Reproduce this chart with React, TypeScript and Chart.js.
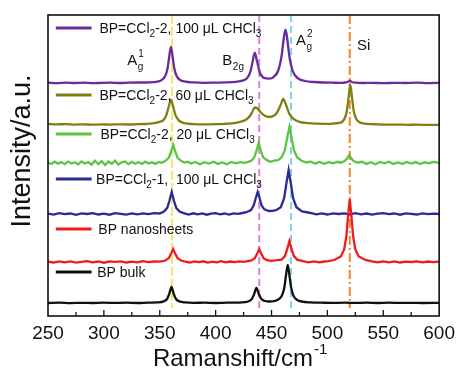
import React, { useEffect, useRef } from 'react';
import { Chart, registerables } from 'chart.js';

Chart.register(...registerables);

const FONT = "Arial, 'Liberation Sans', Helvetica, sans-serif";

// ---- axis ----
const xMin = 250;
const xMax = 600;
const xStep = 50;
const yMax = 301;

// ---- series (Raman intensity above each curve's baseline) ----
const seriesLabels = [
  'BP=CCl_2-2, 100 μL CHCl_3',
  'BP=CCl_2-2, 60 μL CHCl_3',
  'BP=CCl_2-2, 20 μL CHCl_3',
  'BP=CCl_2-1,  100 μL CHCl_3',
  'BP nanosheets',
  'BP bulk',
];
const seriesColors = ['#6a2c9c', '#7f7f12', '#5cc443', '#2b2b95', '#ee1c1c', '#111111'];
const seriesOffsets = [233, 191, 153, 102, 54, 13];
const legendYs = [288, 221, 182, 137, 87, 44];
const seriesNoisy = [false, false, true, true, true, false];

const purpleX = [250,258,266,274,282,290,298,306,314,322,330,338,344,348,352,355,357,358.5,360,361.5,363,365,368,373,380,390,400,410,418,424,428,431,433,435,437,440,444,448,452,456,459,461,462.5,464,466,469,474,480,488,496,505,512,516,518,520,522,525,532,540,550,560,570,580,590,600];
const purpleY = [0.3,-0.2,0.4,0,0.3,-0.2,0.2,0.4,0,0.3,0.5,0.5,0.8,1.4,3.2,7.2,14.8,26.5,36,26.5,14.8,7.2,3.2,1.3,0.6,0.2,0.4,0.6,1.2,2.3,4.7,10.8,20.8,30.3,21.8,9.2,4.8,4.4,6.2,12.5,27,45,53.4,45,26.5,11.9,4.5,2.0,1.0,0.5,0.3,0.2,0.5,1.0,2.0,1.0,0.3,0,0.2,-0.2,0.2,0,0.3,-0.1,0.2];

const oliveX = [250,258,266,274,282,290,298,306,314,322,330,336,341,345,348,351,353,356,358,360,362,364,367,372,380,390,400,408,414,419,424,428,431,433,435,437,440,444,448,452,455,458,460.5,463,466,470,475,482,490,498,505,510,513,515.5,517.5,519,520.5,522,523.5,525.5,528.5,533,540,548,556,564,572,580,590,600];
const oliveY = [1.0,0.6,0.9,0.4,0.7,0.3,0.6,0.4,0.7,0.5,0.8,1.0,1.3,1.8,2.6,3.6,4.6,10.2,18.4,25,18.4,10.2,4.6,1.8,0.9,0.7,0.9,1.2,1.6,2.4,3.8,6,9.5,13.5,17.5,17,13,9.2,8,9.2,12.5,19.5,26,20,11,5.8,3.2,1.9,1.3,1.2,1.4,2,3,6.8,14.5,27.8,40,27.8,14.5,6.8,3,1.4,0.8,0.5,0.3,0.4,0.2,0.3,0.1,0.2];

const greenX = [250,253,256,259,262,265,268,271,274,277,280,283,286,289,292,295,298,301,304,307,310,313,316,319,322,325,328,331,334,337,340,343,346,349,352,355,358,360,362,364,366,369,372,375,378,382,386,390,394,398,402,406,410,414,418,422,426,429,432,434.5,436.5,438.5,440.5,442.5,445.5,449,453,456,459,462,464,466,468,470,473,477,481,485,489,493,497,501,505,509,512,515.5,517.5,519.5,521.5,523.5,527,531,535,539,543,547,551,555,559,563,567,571,575,579,583,587,591,595,600];
const greenY = [0.5,-1.0,1.3,-0.6,0.9,-1.2,1.4,-0.5,0.8,-1.3,1.6,-0.4,1.0,-1.6,2.2,-1.2,1.8,-2.0,1.4,-0.8,2.3,-1.5,0.6,1.6,-1.1,1.2,-0.7,0.9,-1.0,1.3,-0.5,0.8,-0.9,1.1,0.2,2.1,5.1,11,18,11,5.1,2.1,0.4,1.2,-0.6,1.0,-1.2,0.8,-0.5,1.3,-0.9,0.6,-1.3,1.1,-0.3,0.9,0.2,1.2,2.3,5.6,12.2,20,12.2,5.6,3.1,1.2,2.5,2.8,5.6,13,25,36,25,13,5.6,2.3,0.5,1.4,-0.6,1.1,-0.8,0.9,-0.4,1.2,0.3,2,4.5,8,4.5,2,0.3,1.2,-0.9,0.8,-1.2,1.0,-0.3,1.3,-1.0,0.5,-0.8,1.1,-0.6,0.9,-1.1,0.7,-0.4,1.2,0];

const blueX = [250,255,260,265,270,275,280,285,290,295,300,305,310,315,320,325,330,335,340,345,350,353.7,356.7,358.7,360.7,362.7,364.7,367.7,372,376,380,384,388,392,396,400,404,408,412,416,420,424,427.6,431.6,434.1,435.9,437.6,439.3,441.1,443.6,447.6,451,454,458.3,461.3,463.3,465.3,467.3,469.3,472.3,477.3,485,490,495,500,505,510,515,520,525,530,535,540,545,550,555,560,565,570,575,580,585,590,595,600];
const blueY = [0.3,-0.6,0.8,-0.2,0.5,-0.8,0.6,0.0,0.9,-0.5,0.4,-0.7,0.8,0.1,-0.6,0.7,-0.3,0.6,-0.2,0.8,0.5,2.5,6.2,13.4,22,13.4,6.2,2.5,0.6,-0.5,0.7,-0.4,0.6,-0.7,0.3,0.8,-0.3,0.5,-0.6,0.7,0.2,1.0,1.8,4,8.6,16,22,16,8.6,4.6,3.0,3.2,3.8,6.8,15.8,30.5,44,30.5,15.8,6.8,2.6,1.0,-0.3,0.6,-0.5,0.7,0.0,0.6,-0.4,0.8,-0.3,0.5,-0.6,0.4,0.9,-0.2,0.5,-0.7,0.6,0.1,-0.5,0.7,-0.2,0.4,0];

const redX = [250,255,260,265,270,275,280,285,290,295,300,305,310,315,320,325,330,335,340,345,350,355,358,360,362,364,366,369,373,377,381,385,389,393,397,401,405,409,413,417,421,425,429,432,435,437,439,441,443,446,450,455,459,462,464,466,468,470,473,478,483,488,493,497,501,506,512,515,517,518.5,520,521.5,523,525,528,534,540,545,550,555,560,565,570,575,580,585,590,595,600];
const redY = [0.4,-0.5,0.7,-0.3,0.6,-0.6,0.2,0.8,-0.4,0.5,-0.7,0.6,0.1,0.7,-0.5,0.4,-0.3,0.8,-0.2,0.5,0.3,1.5,3.7,7.9,13,7.9,3.7,1.5,0.3,-0.5,0.6,-0.2,0.7,-0.6,0.4,-0.3,0.8,-0.4,0.5,-0.2,0.6,0.1,0.9,1.5,3.7,7.9,13,7.9,3.7,1.8,1.2,1.8,2.4,5.9,12.8,21,12.8,5.9,2.4,0.9,-0.3,0.6,-0.4,0.5,0.8,2.0,5.6,12.6,26,46,63,46,26,12.6,5.6,2,0.6,-0.4,0.6,-0.3,0.7,-0.5,0.4,0.0,0.6,-0.4,0.5,-0.2,0.3];

const blackX = [250,260,270,280,290,300,310,320,330,340,348,353.5,356.5,358.5,360.5,362.5,364.5,367.5,373,380,390,400,410,420,426,429.5,432.5,434.5,436.5,438.5,440.5,443.5,447,451,456.5,459.5,461.5,463,464.5,466,467.5,469.5,472.5,477.5,485,495,505,515,525,535,545,555,565,575,585,600];
const blackY = [0,0.3,-0.1,0.2,0,0.3,0.1,0.3,0,0.4,0.6,1.6,4,9.1,16,9.1,4,1.6,0.6,0.2,0.3,0,0.3,0.4,0.8,1.7,4.2,9.1,15,9.4,4.6,2.2,1.5,1.6,3.8,7.9,15.8,28,38,28,15.6,7.6,3.4,1.3,0.6,0.3,0.1,0.3,0.1,0.3,0,0.3,0.1,0.2,0,0.1];

const seriesX = [purpleX, oliveX, greenX, blueX, redX, blackX];
const seriesY = [purpleY, oliveY, greenY, blueY, redY, blackY];
const seriesOrder = [5, 4, 3, 1, 0, 2];

// ---- Raman mode guide lines & labels ----
const modePositions = [361, 439, 467.5, 520];
const modeColors = ['rgba(240,228,80,0.85)', 'rgba(222,120,214,0.9)', 'rgba(110,208,224,0.9)', 'rgba(240,128,30,0.95)'];
const modeDashes = [[9, 3], [7, 4], [7, 4], [9, 3, 2, 3]];
const modeLineBottom = 8;
const modeBase = ['A', 'B', 'A', 'Si'];
const modeSub = ['g', '2g', 'g', ''];
const modeSup = ['1', '', '2', ''];
const modeLabelX = [321, 406, 472, 526.5];
const modeLabelY = [251, 251, 271, 266];

// ---- legend placement (data units) ----
const legendLineX = [257, 289];
const legendTextX = [296, 296, 297, 293, 295, 294];

function drawRich(ctx: CanvasRenderingContext2D, text: string, x: number, y: number, size: number, color: string) {
  ctx.save();
  ctx.fillStyle = color;
  ctx.textBaseline = 'alphabetic';
  ctx.textAlign = 'left';
  let cx = x;
  let i = 0;
  while (i < text.length) {
    const ch = text[i];
    if ((ch === '_' || ch === '^') && i + 1 < text.length) {
      const c = text[i + 1];
      ctx.font = `${Math.round(size * 0.68)}px ${FONT}`;
      ctx.fillText(c, cx, ch === '_' ? y + size * 0.28 : y - size * 0.45);
      cx += ctx.measureText(c).width;
      i += 2;
    } else {
      let j = i;
      while (j < text.length && text[j] !== '_' && text[j] !== '^') j++;
      const run = text.slice(i, j);
      ctx.font = `${size}px ${FONT}`;
      ctx.fillText(run, cx, y);
      cx += ctx.measureText(run).width;
      i = j;
    }
  }
  ctx.restore();
}

const decorPlugin = {
  id: 'decor',
  beforeDatasetsDraw(chart: any) {
    const { ctx, chartArea, scales } = chart;
    const xs = scales.x;
    const ys = scales.y;
    modePositions.forEach((p, i) => {
      const px = xs.getPixelForValue(p);
      ctx.save();
      ctx.strokeStyle = modeColors[i];
      ctx.lineWidth = 2;
      ctx.setLineDash(modeDashes[i]);
      ctx.beginPath();
      ctx.moveTo(px, chartArea.top);
      ctx.lineTo(px, ys.getPixelForValue(modeLineBottom));
      ctx.stroke();
      ctx.restore();
    });
  },
  afterDraw(chart: any) {
    const { ctx, chartArea, scales } = chart;
    const xs = scales.x;
    const ys = scales.y;
    ctx.save();
    // frame
    ctx.strokeStyle = '#111';
    ctx.lineWidth = 1.6;
    ctx.strokeRect(chartArea.left, chartArea.top, chartArea.right - chartArea.left, chartArea.bottom - chartArea.top);
    // inward ticks
    ctx.lineWidth = 1.3;
    for (let v = xMin + xStep / 2; v < xMax; v += xStep / 2) {
      const px = xs.getPixelForValue(v);
      const len = v % xStep === 0 ? 6 : 4;
      ctx.beginPath();
      ctx.moveTo(px, chartArea.bottom);
      ctx.lineTo(px, chartArea.bottom - len);
      ctx.stroke();
    }
    // legend
    seriesLabels.forEach((lab, i) => {
      const y = ys.getPixelForValue(legendYs[i]);
      ctx.strokeStyle = seriesColors[i];
      ctx.lineWidth = 3;
      ctx.beginPath();
      ctx.moveTo(xs.getPixelForValue(legendLineX[0]), y);
      ctx.lineTo(xs.getPixelForValue(legendLineX[1]), y);
      ctx.stroke();
      drawRich(ctx, lab, xs.getPixelForValue(legendTextX[i]), y + 5, 14, '#111');
    });
    // mode labels
    modeBase.forEach((b, i) => {
      const x = xs.getPixelForValue(modeLabelX[i]);
      const y = ys.getPixelForValue(modeLabelY[i]);
      ctx.fillStyle = '#111';
      ctx.font = `15px ${FONT}`;
      ctx.textAlign = 'left';
      ctx.textBaseline = 'alphabetic';
      ctx.fillText(b, x, y);
      const w = ctx.measureText(b).width;
      ctx.font = `10px ${FONT}`;
      if (modeSub[i]) ctx.fillText(modeSub[i], x + w + 0.5, y + 5);
      if (modeSup[i]) ctx.fillText(modeSup[i], x + w + 1, y - 8);
    });
    // x title with superscript
    ctx.fillStyle = '#111';
    ctx.textBaseline = 'alphabetic';
    ctx.textAlign = 'left';
    ctx.font = `24px ${FONT}`;
    const main = 'Ramanshift/cm';
    const mw = ctx.measureText(main).width;
    ctx.font = `15px ${FONT}`;
    const sup = '-1';
    const sw = ctx.measureText(sup).width;
    const cx = (chartArea.left + chartArea.right) / 2 - 4;
    const startX = cx - (mw + sw) / 2;
    ctx.font = `24px ${FONT}`;
    ctx.fillText(main, startX, 366);
    ctx.font = `15px ${FONT}`;
    ctx.fillText(sup, startX + mw + 1, 354);
    // y title
    ctx.save();
    ctx.translate(30, 151);
    ctx.rotate(-Math.PI / 2);
    ctx.textAlign = 'center';
    ctx.font = `27px ${FONT}`;
    ctx.fillText('Intensity/a.u.', 0, 0);
    ctx.restore();
    ctx.restore();
  },
};

export default function App() {
  const canvasRef = useRef<HTMLCanvasElement | null>(null);
  useEffect(() => {
    const canvas = canvasRef.current;
    if (!canvas) return;
    const datasets = seriesLabels.map((lab, i) => ({
      label: lab,
      data: seriesX[i].map((x, k) => ({ x, y: seriesY[i][k] + seriesOffsets[i] })),
      borderColor: seriesColors[i],
      backgroundColor: seriesColors[i],
      borderWidth: 2.3,
      pointRadius: 0,
      fill: false,
      tension: 0,
      cubicInterpolationMode: seriesNoisy[i] ? ('default' as const) : ('monotone' as const),
      order: seriesOrder[i],
    }));
    const chart = new Chart(canvas, {
      type: 'line',
      data: { datasets },
      options: {
        animation: false,
        responsive: true,
        maintainAspectRatio: false,
        devicePixelRatio: 1,
        layout: { padding: { left: 48, right: 21, top: 15, bottom: 0 } },
        plugins: { legend: { display: false }, tooltip: { enabled: false } },
        scales: {
          x: {
            type: 'linear',
            min: xMin,
            max: xMax,
            grid: { display: false, drawTicks: false },
            border: { display: false },
            ticks: {
              stepSize: xStep,
              autoSkip: false,
              maxRotation: 0,
              padding: 6,
              color: '#111',
              font: { size: 19, family: FONT },
            },
            afterFit: (s: any) => {
              s.height = 57;
            },
          },
          y: { display: false, min: 0, max: yMax },
        },
      },
      plugins: [decorPlugin],
    });
    return () => chart.destroy();
  }, []);
  return (
    <div style={{ position: 'fixed', left: 0, top: 0, width: 461, height: 373, background: '#fff' }}>
      <canvas ref={canvasRef} />
    </div>
  );
}
